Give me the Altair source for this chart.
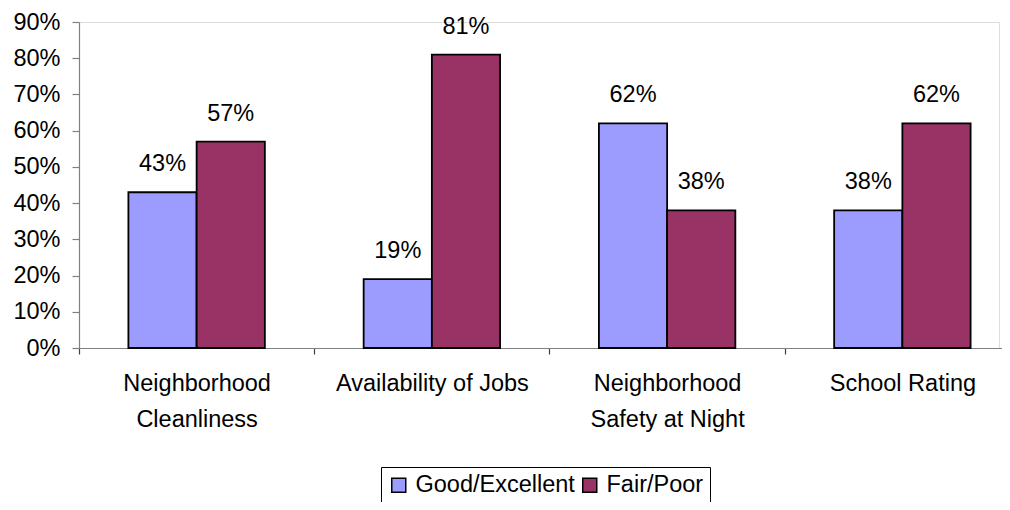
import altair as alt
import pandas as pd

categories = ["Neighborhood Cleanliness", "Availability of Jobs",
              "Neighborhood Safety at Night", "School Rating"]
series = ["Good/Excellent", "Fair/Poor"]
good_excellent = [0.43, 0.19, 0.62, 0.38]
fair_poor = [0.57, 0.81, 0.38, 0.62]
colors = ["#9C9CFF", "#993366"]

rows = []
for i, c in enumerate(categories):
    rows.append({"category": c, "series": series[0], "value": good_excellent[i]})
    rows.append({"category": c, "series": series[1], "value": fair_poor[i]})
df = pd.DataFrame(rows)

FONT = "Liberation Sans"
FS = 23.5

label_expr = ("datum.label == 'Neighborhood Cleanliness' ? ['Neighborhood', 'Cleanliness'] : "
              "datum.label == 'Neighborhood Safety at Night' ? ['Neighborhood', 'Safety at Night'] : datum.label")

RANGE = 941
PI, PO = 0.42, 0.21
step = RANGE / (len(categories) - PI + 2 * PO)
band = step * (1 - PI)
tick_off = -PI * step / 2

x = alt.X("category:N", sort=categories, title=None,
          scale=alt.Scale(domain=categories, range=[0, RANGE], paddingInner=PI, paddingOuter=PO),
          axis=alt.Axis(labelAngle=0, bandPosition=0, tickOffset=tick_off,
                        labelOffset=-tick_off, labelExpr=label_expr, labelLimit=0,
                        labelFont=FONT, labelFontSize=FS, labelColor="black",
                        labelLineHeight=36, labelPadding=17, labelBaseline="top",
                        domainColor="#808080", tickColor="#404040", tickSize=6,
                        domainWidth=1.2, tickWidth=1.2, grid=False))
xoff = alt.XOffset("series:N", sort=series, scale=alt.Scale(domain=series, paddingInner=0, paddingOuter=0))
y = alt.Y("value:Q", title=None,
          scale=alt.Scale(domain=[0, 0.9], nice=False),
          axis=alt.Axis(format=".0%", values=[i / 10 for i in range(10)],
                        labelFont=FONT, labelFontSize=FS, labelColor="black",
                        labelPadding=12, tickSize=7, domainColor="#808080",
                        tickColor="#808080", domainWidth=1.2, tickWidth=1.2, grid=False))

color = alt.Color("series:N", sort=series,
                  scale=alt.Scale(domain=series, range=colors),
                  legend=alt.Legend(title=None, orient="none", legendX=302, legendY=445,
                                    direction="horizontal", strokeColor="black",
                                    fillColor="white", padding=6,
                                    labelFont=FONT, labelFontSize=FS, labelColor="black",
                                    symbolType="square", symbolSize=196,
                                    symbolStrokeColor="black", symbolStrokeWidth=1.5,
                                    columnPadding=3, labelOffset=5))

bars = alt.Chart(df).mark_bar(stroke="black", strokeWidth=1.8, opacity=1).encode(
    x=x, xOffset=xoff, y=y, color=color)

text = alt.Chart(df).mark_text(font=FONT, fontSize=FS, color="black", baseline="alphabetic",
                               align="center", dy=-21).encode(
    x=x, xOffset=xoff, y=y, text=alt.Text("value:Q", format=".0%"))

chart = alt.layer(bars, text).properties(
    width=920, height=326,
    autosize=alt.AutoSizeParams(type="none"),
    padding={"left": 71, "top": 14, "right": 3, "bottom": 154},
).configure_view(stroke=None).configure(background="white")

chart.save("out.html", embed_options={"renderer": "svg", "actions": False})
